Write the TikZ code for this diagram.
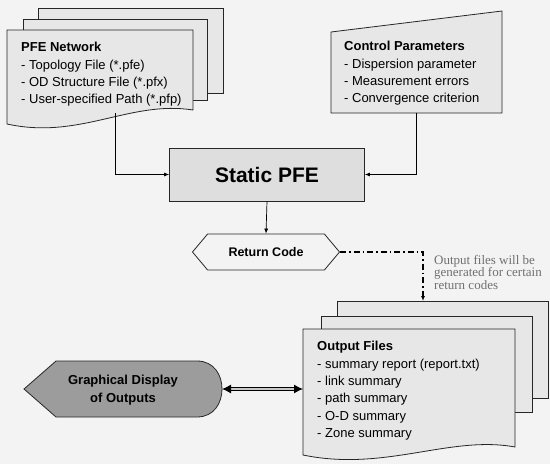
\documentclass[tikz,border=0pt]{standalone}
\usepackage{fontspec}
\setmainfont{Liberation Sans}
\newfontfamily\notefont{Liberation Serif}
\usetikzlibrary{arrows.meta,shapes.symbols}

\definecolor{paper}{HTML}{F3F3F3}
\definecolor{sheet}{HTML}{E7E7E7}
\definecolor{procfill}{HTML}{DEDEDE}
\definecolor{dispfill}{HTML}{9C9C9C}
\definecolor{notegray}{HTML}{707070}

\tikzset{
  sheetline/.style={draw=black!85, line width=0.8pt, fill=sheet},
  listtext/.style={anchor=north west, align=left, inner sep=0pt,
    font=\fontsize{13}{17.4}\selectfont},
  procbox/.style={draw=black!85, line width=0.8pt, fill=procfill,
    minimum width=195pt, minimum height=53pt,
    font=\fontsize{21}{25}\selectfont\bfseries},
  codebox/.style={signal, signal to=west and east, signal pointer angle=100,
    draw=black!85, line width=0.8pt, fill=paper, minimum width=147pt,
    minimum height=36pt, inner sep=0pt, font=\fontsize{12.5}{15}\selectfont\bfseries},
  flow/.style={line width=0.7pt, -{Latex[length=5pt,width=4pt]}},
  optional/.style={line width=1.1pt, dash pattern=on 6pt off 3pt on 1.5pt off 3pt,
    -{Latex[length=5pt,width=4pt]}},
  twoway/.style={line width=1pt, double=gray!45, double distance=1.6pt,
    {Latex[length=9pt,width=9pt]}-{Latex[length=9pt,width=9pt]}},
}

\begin{document}
\begin{tikzpicture}[x=1pt, y=-1pt]
\useasboundingbox[fill=paper] (0,0) rectangle (550,464);

% Input files
\filldraw[sheetline] (38,8) rectangle (223,93);
\filldraw[sheetline] (23,19) rectangle (207,100);
\filldraw[sheetline] (7,30) -- (193,30) -- (193,110)
  .. controls (130,100) and (80,140) .. (7,124) -- cycle;
\node[listtext] (net) at (21,42) {\textbf{PFE Network}\\
  - Topology File (*.pfe)\\
  - OD Structure File (*.pfx)\\
  - User-specified Path (*.pfp)};
\coordinate (netout) at (115,113);

% Control parameters
\filldraw[sheetline] (331,32) -- (502,11) -- (502,113) -- (331,113) -- cycle;
\node[listtext] (ctrl) at (344,41) {\textbf{Control Parameters}\\
  - Dispersion parameter\\
  - Measurement errors\\
  - Convergence criterion};
\coordinate (ctrlout) at (416,113);

% Process
\node[procbox] (proc) at (267,174.5) {Static PFE};
\node[codebox] (ret) at (266,252) {Return Code};

% Output files
\filldraw[sheetline] (337,301) rectangle (548,398);
\filldraw[sheetline] (321,316) rectangle (532,412);
\filldraw[sheetline] (303,329) -- (515,329) -- (515,447)
  .. controls (450,435) and (385,472) .. (303,455) -- cycle;
\node[listtext] (outs) at (317,341) {\textbf{Output Files}\\
  - summary report (report.txt)\\
  - link summary\\
  - path summary\\
  - O-D summary\\
  - Zone summary};
\coordinate (outin) at (423,301);
\coordinate (outleft) at (303,389);

% Display
\filldraw[draw=black!85, line width=0.8pt, fill=dispfill] (24,389) -- (56,361) -- (197,361)
  .. controls (214,361) and (222,375) .. (222,389)
  .. controls (222,403) and (214,417) .. (197,417) -- (56,417) -- cycle;
\node[align=center, font=\fontsize{13}{18}\selectfont\bfseries] (disp) at (123,390)
  {Graphical Display\\of Outputs};
\coordinate (dispright) at (222,389);

% Note
\node[anchor=north west, align=left, inner sep=0pt, text=notegray,
  font=\notefont\fontsize{13}{12.6}\selectfont] (note) at (434,255)
  {Output files will be\\generated for certain\\return codes};

% Connectors
\draw[flow] (netout) |- (proc.west);
\draw[flow] (ctrlout) |- (proc.east);
\draw[flow] (proc.south) -- (ret.north);
\draw[optional] (ret.east) -| (outin);
\draw[twoway] (dispright) -- (outleft);
\end{tikzpicture}
\end{document}
